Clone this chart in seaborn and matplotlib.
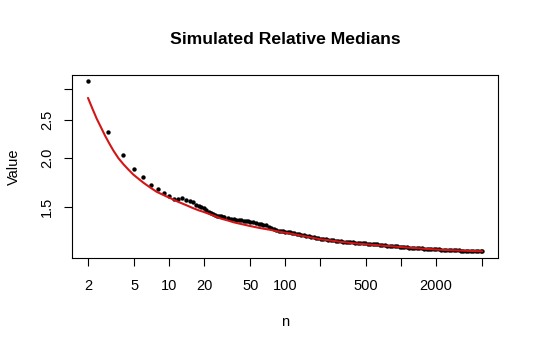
import pandas as pd
import matplotlib
matplotlib.use("Agg")
import matplotlib.pyplot as plt
import seaborn as sns

# simulated medians (black points)
sim_n = [2, 3, 4, 5, 6, 7, 8, 9, 10, 11, 12, 13, 14, 15, 16, 17, 18, 19, 20,
         21, 22, 23, 24, 25, 26, 27, 28, 29, 30, 32, 34, 36, 38, 40, 42, 44, 46, 48, 50,
         53, 56, 59, 62, 65, 68, 72, 76, 80, 84, 88, 92, 96, 100,
         105, 110, 115, 120, 126, 132, 138, 145, 152, 160, 168, 176, 185, 194, 204, 214,
         225, 236, 248, 260, 273, 287, 301, 316, 332, 348, 366, 384, 403, 423, 444, 466,
         490, 514, 540, 567, 595, 625, 656, 689, 723, 759, 797, 837, 879, 923, 969, 1017,
         1068, 1121, 1177, 1236, 1298, 1363, 1431, 1503, 1578, 1657, 1740, 1827, 1918,
         2014, 2115, 2221, 2332, 2449, 2571, 2700, 2835, 2977, 3126, 3282, 3446, 3618,
         3799, 3989, 4189, 4398, 4618, 4849, 5000]
sim_value = [3.15, 2.33, 2.04, 1.88, 1.79, 1.71, 1.67, 1.63, 1.60, 1.57, 1.57, 1.58, 1.56,
             1.55, 1.54, 1.52, 1.51, 1.50, 1.49,
             1.47, 1.455, 1.445, 1.435, 1.43, 1.425, 1.42, 1.418, 1.415, 1.41, 1.405, 1.40,
             1.395, 1.39, 1.388, 1.385, 1.383, 1.38, 1.377, 1.374,
             1.37, 1.366, 1.36, 1.355, 1.352, 1.35, 1.335, 1.322, 1.318, 1.312, 1.305,
             1.30, 1.298, 1.297,
             1.294, 1.29, 1.287, 1.284, 1.28, 1.276, 1.272, 1.268, 1.265, 1.262, 1.258,
             1.255, 1.252, 1.248, 1.243, 1.24,
             1.238, 1.236, 1.234, 1.232, 1.229, 1.227, 1.225, 1.223, 1.222, 1.22, 1.219,
             1.218, 1.216, 1.215, 1.214, 1.212,
             1.21, 1.208, 1.206, 1.205, 1.203, 1.202, 1.20, 1.198, 1.196, 1.194, 1.192,
             1.19, 1.189, 1.188, 1.187, 1.186,
             1.184, 1.182, 1.18, 1.179, 1.178, 1.177, 1.176, 1.174, 1.173, 1.172, 1.171,
             1.17, 1.169,
             1.168, 1.167, 1.166, 1.165, 1.164, 1.163, 1.162, 1.162, 1.161, 1.161, 1.16,
             1.16, 1.159,
             1.159, 1.158, 1.158, 1.157, 1.157, 1.156, 1.156]

# theoretical curve (red line)
curve_n = [2, 2.19, 2.38, 2.6, 2.81, 3.05, 3.31, 3.65, 4.03, 4.45, 4.91, 5.45, 6.0, 6.8,
           7.8, 9.0, 10.2, 12, 14, 16, 18, 20, 22, 25, 28, 32, 36, 40, 50, 60, 75, 90,
           110, 135, 160, 200, 250, 300, 400, 500, 650, 800, 1000, 1300, 1600, 2000,
           2500, 3200, 4000, 5000]
curve_value = [2.85, 2.67, 2.52, 2.39, 2.28, 2.18, 2.09, 2.00, 1.93, 1.87, 1.815, 1.77,
               1.73, 1.685, 1.64, 1.607, 1.58, 1.545, 1.516, 1.49, 1.47, 1.455, 1.44,
               1.42, 1.40, 1.385, 1.37, 1.36, 1.34, 1.325, 1.31, 1.295, 1.283, 1.268,
               1.256, 1.24, 1.23, 1.221, 1.21, 1.203, 1.196, 1.19, 1.184, 1.177, 1.172,
               1.167, 1.163, 1.16, 1.157, 1.155]

x_ticks = [2, 5, 10, 20, 50, 100, 200, 500, 1000, 2000, 5000]
x_labels = ["2", "5", "10", "20", "50", "100", "", "500", "", "2000", ""]
y_ticks = [1.5, 2.0, 2.5, 3.0]
y_labels = ["1.5", "2.0", "2.5", ""]

sns.set_style("white")
plt.rcParams['font.family'] = ['Liberation Sans', 'DejaVu Sans']
plt.rcParams['text.color'] = 'black'
plt.rcParams['axes.labelcolor'] = 'black'

sim_df = pd.DataFrame({"n": sim_n, "Value": sim_value})
curve_df = pd.DataFrame({"n": curve_n, "Value": curve_value})

fig = plt.figure(figsize=(5.4, 3.53), dpi=100)
ax = fig.add_axes([72 / 540, 1 - 258 / 353, 426 / 540, 183 / 353])

sns.scatterplot(data=sim_df, x="n", y="Value", ax=ax, color="black", s=10,
                linewidth=0, zorder=2)
sns.lineplot(data=curve_df, x="n", y="Value", ax=ax, color="#d41515", linewidth=1.5,
             zorder=3)

ax.set_xscale("log")
ax.set_yscale("log")
ax.set_xlim(1.456, 6840)
ax.set_ylim(1.110, 3.262)
ax.minorticks_off()
ax.set_xticks(x_ticks)
ax.set_xticklabels(x_labels)
ax.set_yticks(y_ticks)
ax.set_yticklabels(y_labels, rotation=90, va="center")

for s in ax.spines.values():
    s.set_visible(True)
    s.set_color("black")
    s.set_linewidth(0.8)
ax.tick_params(axis="both", which="major", direction="out", length=6, width=0.8,
               color="black", labelsize=10.5, labelcolor="black",
               bottom=True, left=True)
ax.tick_params(axis="x", pad=9)
ax.tick_params(axis="y", pad=7)

ax.set_xlabel("n", fontsize=10.5, labelpad=16, color="black")
ax.set_ylabel("Value", fontsize=10.5, labelpad=14, color="black")
fig.text(285 / 540, 1 - 40 / 353, "Simulated Relative Medians", ha="center",
         va="center", fontsize=12.6, fontweight="bold", color="black")

plt.savefig("out.png", dpi=100)
